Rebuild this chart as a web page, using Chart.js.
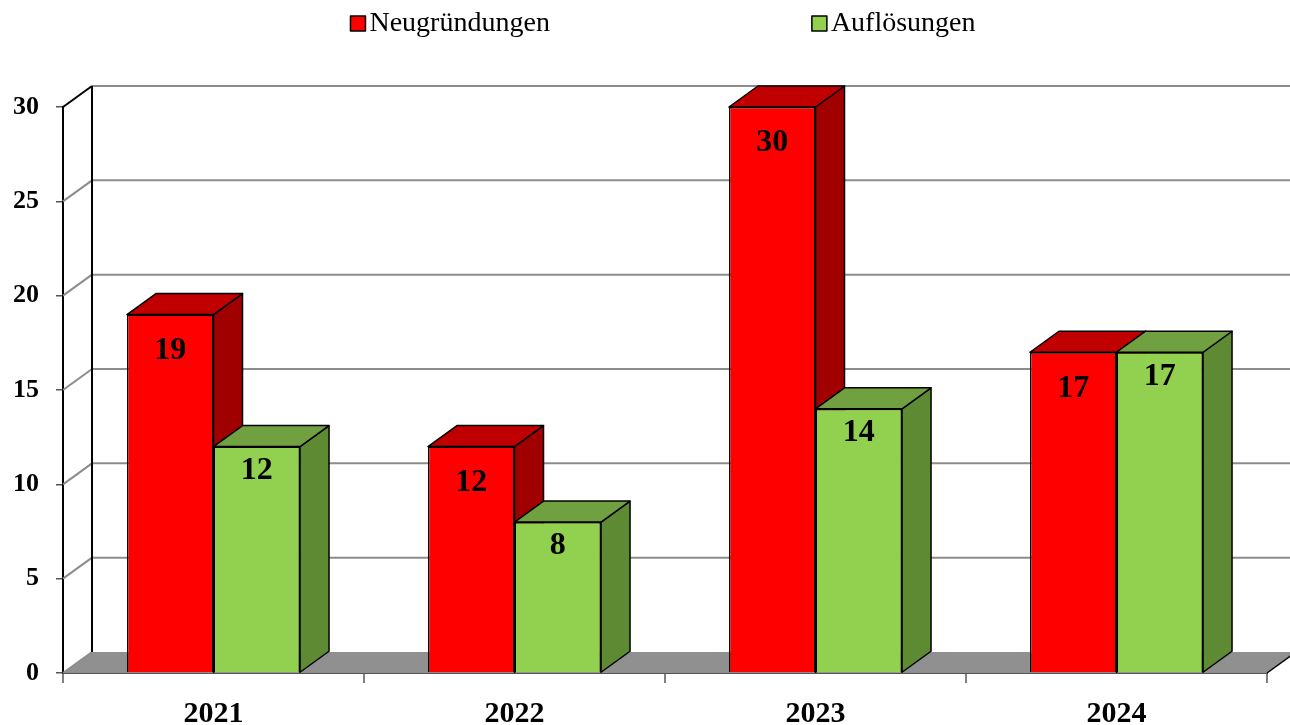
<!DOCTYPE html>
<html>
<head>
<meta charset="utf-8">
<script src="https://cdn.jsdelivr.net/npm/chart.js@4/dist/chart.umd.min.js"></script>
<style>
  html, body { margin: 0; padding: 0; background: #fff; }
  #wrap { width: 1290px; height: 725px; }
</style>
</head>
<body>
<div id="wrap"><canvas id="barChart"></canvas></div>
<script>
const years = ["2021", "2022", "2023", "2024"];
const neugruendungen = [19, 12, 30, 17];
const aufloesungen = [12, 8, 14, 17];
const yTicks = [0, 5, 10, 15, 20, 25, 30];

const SERIF = '"Liberation Serif", "Times New Roman", serif';
// Tiefe der 3D-Darstellung
const DX = 29, DY = -21;
const faces = [
    { front: "#FF0000", top: "#C00000", side: "#A00000", labelOffset: 36 },
    { front: "#92D050", top: "#70A040", side: "#5E8A34", labelOffset: 24 },
];

function poly(ctx, pts, fill) {
    ctx.beginPath();
    ctx.moveTo(pts[0][0], pts[0][1]);
    for (let i = 1; i < pts.length; i++) ctx.lineTo(pts[i][0], pts[i][1]);
    ctx.closePath();
    ctx.fillStyle = fill;
    ctx.fill();
    ctx.stroke();
}

const threeD = {
    id: "threeD",
    beforeDatasetsDraw(chart) {
        const { ctx, chartArea: a, scales: { y } } = chart;
        ctx.save();
        // Boden
        ctx.fillStyle = "#909090";
        ctx.beginPath();
        ctx.moveTo(a.left, a.bottom);
        ctx.lineTo(a.right, a.bottom);
        ctx.lineTo(a.right + DX, a.bottom + DY);
        ctx.lineTo(a.left + DX, a.bottom + DY);
        ctx.closePath();
        ctx.fill();
        ctx.strokeStyle = "#000";
        ctx.lineWidth = 1.5;
        ctx.beginPath();
        ctx.moveTo(a.right, a.bottom);
        ctx.lineTo(a.right + DX, a.bottom + DY);
        ctx.stroke();
        // Gitterlinien an der Rückwand
        yTicks.forEach(v => {
            const py = y.getPixelForValue(v);
            const top = v === yTicks[yTicks.length - 1];
            ctx.strokeStyle = top ? "#000" : "#8c8c8c";
            ctx.lineWidth = 2;
            ctx.beginPath();
            ctx.moveTo(a.left, py);
            ctx.lineTo(a.left + DX, py + DY);
            ctx.stroke();
            if (v !== 0) {
                ctx.strokeStyle = "#8c8c8c";
                ctx.beginPath();
                ctx.moveTo(a.left + DX, py + DY);
                ctx.lineTo(chart.width, py + DY);
                ctx.stroke();
            }
        });
        ctx.strokeStyle = "#000";
        ctx.lineWidth = 2;
        ctx.beginPath();
        ctx.moveTo(a.left + DX, y.getPixelForValue(yTicks[yTicks.length - 1]) + DY);
        ctx.lineTo(a.left + DX, a.bottom + DY);
        ctx.stroke();
        ctx.restore();
    },
    afterDatasetsDraw(chart) {
        const { ctx, chartArea: a } = chart;
        const metas = chart.data.datasets.map((ds, i) => chart.getDatasetMeta(i));
        ctx.save();
        ctx.lineJoin = "round";
        // Säulen je Kategorie von links nach rechts, damit die vordere Säule die Seite der linken verdeckt
        years.forEach((yr, j) => {
            metas.forEach((meta, i) => {
                const bar = meta.data[j];
                const f = faces[i];
                if (i > 0) bar.draw(ctx);
                const { x, y, base, width } = bar.getProps(["x", "y", "base", "width"], true);
                const l = x - width / 2, r = x + width / 2;
                ctx.strokeStyle = "#000";
                ctx.lineWidth = 1.5;
                poly(ctx, [[r, y], [r + DX, y + DY], [r + DX, base + DY], [r, base]], f.side);
                poly(ctx, [[l, y], [r, y], [r + DX, y + DY], [l + DX, y + DY]], f.top);
            });
        });
        // Werte in den Säulen
        ctx.font = "bold 32px " + SERIF;
        ctx.fillStyle = "#000";
        ctx.textAlign = "center";
        ctx.textBaseline = "middle";
        chart.data.datasets.forEach((ds, i) => {
            metas[i].data.forEach((bar, j) => {
                ctx.fillText(String(ds.data[j]), bar.x, bar.y + faces[i].labelOffset);
            });
        });
        // Legende
        ctx.font = "28px " + SERIF;
        ctx.textAlign = "left";
        const box = 15, gap = 4, between = 262;
        const widths = chart.data.datasets.map(ds => box + gap + ctx.measureText(ds.label).width);
        const total = widths.reduce((s, w) => s + w, 0) + between * (widths.length - 1);
        let lx = (a.left + a.right) / 2 - total / 2 - 2;
        chart.data.datasets.forEach((ds, i) => {
            ctx.fillStyle = faces[i].front;
            ctx.fillRect(lx, 16, box, box);
            ctx.strokeStyle = "#000";
            ctx.lineWidth = 1.5;
            ctx.strokeRect(lx, 16, box, box);
            ctx.fillStyle = "#000";
            ctx.fillText(ds.label, lx + box + gap, 24);
            lx += widths[i] + between;
        });
        ctx.restore();
    },
};

document.addEventListener("DOMContentLoaded", function () {
    const ctx = document.getElementById("barChart").getContext("2d");
    new Chart(ctx, {
        type: "bar",
        data: {
            labels: years,
            datasets: [
                {
                    label: "Neugründungen",
                    data: neugruendungen,
                    backgroundColor: faces[0].front,
                    borderColor: "#000",
                    borderWidth: 1.5,
                    clip: false,
                },
                {
                    label: "Auflösungen",
                    data: aufloesungen,
                    backgroundColor: faces[1].front,
                    borderColor: "#000",
                    borderWidth: 1.5,
                    clip: false,
                },
            ],
        },
        options: {
            responsive: true,
            maintainAspectRatio: false,
            animation: false,
            layout: { padding: { top: 107, right: 23, left: 0, bottom: 0 } },
            datasets: { bar: { categoryPercentage: 0.575, barPercentage: 1 } },
            plugins: {
                legend: { display: false },
                tooltip: { enabled: false },
            },
            scales: {
                x: {
                    afterFit: s => { s.height = 52; },
                    grid: { drawOnChartArea: false, tickLength: 10, color: "#808080", lineWidth: 2 },
                    border: { color: "#555", width: 2 },
                    ticks: { color: "#000", font: { family: SERIF, size: 30, weight: "bold" }, padding: 13 },
                },
                y: {
                    min: 0,
                    max: 30,
                    afterFit: s => { s.width = 63; },
                    afterBuildTicks: s => { s.ticks = yTicks.map(v => ({ value: v })); },
                    grid: { drawOnChartArea: false, tickLength: 7, color: "#555", lineWidth: 1.5 },
                    border: { color: "#000", width: 2 },
                    ticks: { color: "#000", font: { family: SERIF, size: 26, weight: "bold" }, padding: 17 },
                },
            },
        },
        plugins: [threeD],
    });
});
</script>
</body>
</html>
